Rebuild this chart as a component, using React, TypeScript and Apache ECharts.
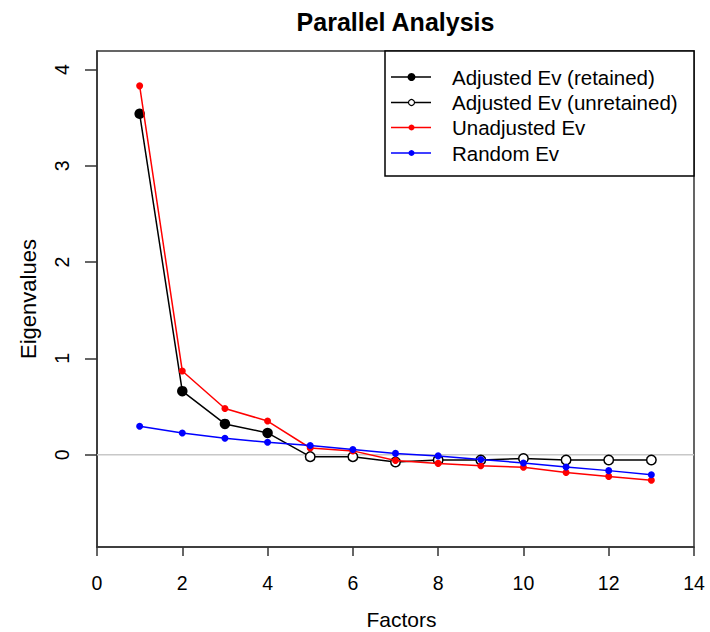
import React, { useEffect, useRef } from "react";
import * as echarts from "echarts";

const factors = [1, 2, 3, 4, 5, 6, 7, 8, 9, 10, 11, 12, 13];
const adjustedEv = [3.54, 0.66, 0.32, 0.226, -0.02, -0.02, -0.075, -0.055, -0.055, -0.04, -0.055, -0.055, -0.055];
const retainedCount = 4;
const unadjustedEv = [3.83, 0.87, 0.48, 0.35, 0.07, 0.04, -0.06, -0.09, -0.115, -0.13, -0.185, -0.225, -0.265];
const randomEv = [0.295, 0.226, 0.171, 0.13, 0.096, 0.055, 0.014, -0.012, -0.05, -0.085, -0.128, -0.165, -0.207];
const yTicks = [0, 1, 2, 3, 4];
const legendLabels = ["Adjusted Ev (retained)", "Adjusted Ev (unretained)", "Unadjusted Ev", "Random Ev"];

const FONT = "'Liberation Sans', Arial, Helvetica, sans-serif";

export default function App() {
  const ref = useRef<HTMLDivElement>(null);
  useEffect(() => {
    document.body.style.margin = "0";
    const chart = echarts.init(ref.current!, undefined, { renderer: "svg" });

    const gridLeft = 97;
    const gridTop = 51;
    const gridRight = 694;
    const gridBottom = 547;

    const adjData = factors.map((f, i) => {
      const retained = i < retainedCount;
      return {
        value: [f, adjustedEv[i]],
        symbolSize: retained ? 10.5 : 9.5,
        itemStyle: retained
          ? { color: "#000000", borderWidth: 0 }
          : { color: "#ffffff", borderColor: "#000000", borderWidth: 1.5 },
      };
    });

    const legendRows = [77, 102.5, 127.5, 153];
    const legendMarkers = [
      { fill: "#000000", stroke: "#000000", r: 4, lw: 0, line: "#000000" },
      { fill: "#ffffff", stroke: "#000000", r: 3, lw: 1.2, line: "#000000" },
      { fill: "#ff0000", stroke: "#ff0000", r: 3, lw: 0, line: "#ff0000" },
      { fill: "#0000ff", stroke: "#0000ff", r: 3, lw: 0, line: "#0000ff" },
    ];
    const legendChildren: any[] = [
      {
        type: "rect",
        shape: { x: 385, y: 51, width: 309, height: 125 },
        style: { fill: "#ffffff", stroke: "#000000", lineWidth: 1.5 },
      },
    ];
    legendLabels.forEach((label, i) => {
      const y = legendRows[i];
      const m = legendMarkers[i];
      legendChildren.push({
        type: "line",
        shape: { x1: 391, y1: y, x2: 431, y2: y },
        style: { stroke: m.line, lineWidth: 1.5 },
      });
      legendChildren.push({
        type: "circle",
        shape: { cx: 411.5, cy: y, r: m.r },
        style: { fill: m.fill, stroke: m.stroke, lineWidth: m.lw },
      });
      legendChildren.push({
        type: "text",
        x: 452,
        y: y,
        style: {
          text: label,
          fill: "#000000",
          font: `20.5px ${FONT}`,
          textAlign: "left",
          textVerticalAlign: "middle",
        },
      });
    });

    chart.setOption({
      animation: false,
      backgroundColor: "#ffffff",
      grid: {
        left: gridLeft,
        top: gridTop,
        right: 710 - gridRight,
        bottom: 632 - gridBottom,
        show: true,
        borderColor: "#333333",
        borderWidth: 1.5,
        backgroundColor: "transparent",
      },
      xAxis: {
        type: "value",
        min: 0,
        max: 14,
        interval: 2,
        splitLine: { show: false },
        axisLine: { show: true, onZero: false, lineStyle: { color: "#333333", width: 1.5 } },
        axisTick: { show: true, length: 9, lineStyle: { color: "#333333", width: 1.5 } },
        axisLabel: { color: "#000000", fontSize: 19.5, fontFamily: FONT, margin: 26 },
      },
      yAxis: {
        type: "value",
        min: -0.958,
        max: 4.192,
        splitLine: { show: false },
        axisLine: { show: true, onZero: false, lineStyle: { color: "#333333", width: 1.5 } },
        axisTick: { show: true, length: 12, customValues: yTicks, lineStyle: { color: "#333333", width: 1.5 } },
        axisLabel: {
          color: "#000000",
          fontSize: 19.5,
          fontFamily: FONT,
          margin: 25,
          rotate: 90,
          customValues: yTicks,
        },
      },
      graphic: [
        {
          type: "text",
          x: (gridLeft + gridRight) / 2,
          y: 22,
          style: {
            text: "Parallel Analysis",
            fill: "#000000",
            font: `bold 25px ${FONT}`,
            textAlign: "center",
            textVerticalAlign: "middle",
          },
        },
        {
          type: "text",
          x: (gridLeft + gridRight) / 2 + 6,
          y: 619,
          style: {
            text: "Factors",
            fill: "#000000",
            font: `21px ${FONT}`,
            textAlign: "center",
            textVerticalAlign: "middle",
          },
        },
        {
          type: "text",
          x: 28,
          y: (gridTop + gridBottom) / 2,
          rotation: Math.PI / 2,
          style: {
            text: "Eigenvalues",
            fill: "#000000",
            font: `22px ${FONT}`,
            textAlign: "center",
            textVerticalAlign: "middle",
          },
        },
        { type: "group", children: legendChildren, z: 100 },
      ],
      series: [
        {
          type: "line",
          data: [[0, 0], [14, 0]],
          symbol: "none",
          silent: true,
          z: 1,
          lineStyle: { color: "#c8c8c8", width: 1.5 },
        },
        {
          type: "line",
          data: adjData,
          symbol: "circle",
          z: 2,
          lineStyle: { color: "#000000", width: 1.5 },
          itemStyle: { color: "#000000" },
        },
        {
          type: "line",
          data: factors.map((f, i) => [f, unadjustedEv[i]]),
          symbol: "circle",
          symbolSize: 7,
          z: 3,
          lineStyle: { color: "#ff0000", width: 1.5 },
          itemStyle: { color: "#ff0000" },
        },
        {
          type: "line",
          data: factors.map((f, i) => [f, randomEv[i]]),
          symbol: "circle",
          symbolSize: 7,
          z: 4,
          lineStyle: { color: "#0000ff", width: 1.5 },
          itemStyle: { color: "#0000ff" },
        },
      ],
    });
    return () => chart.dispose();
  }, []);
  return (
    <div
      ref={ref}
      style={{ width: 710, height: 632, position: "absolute", left: 0, top: 0 }}
    />
  );
}
